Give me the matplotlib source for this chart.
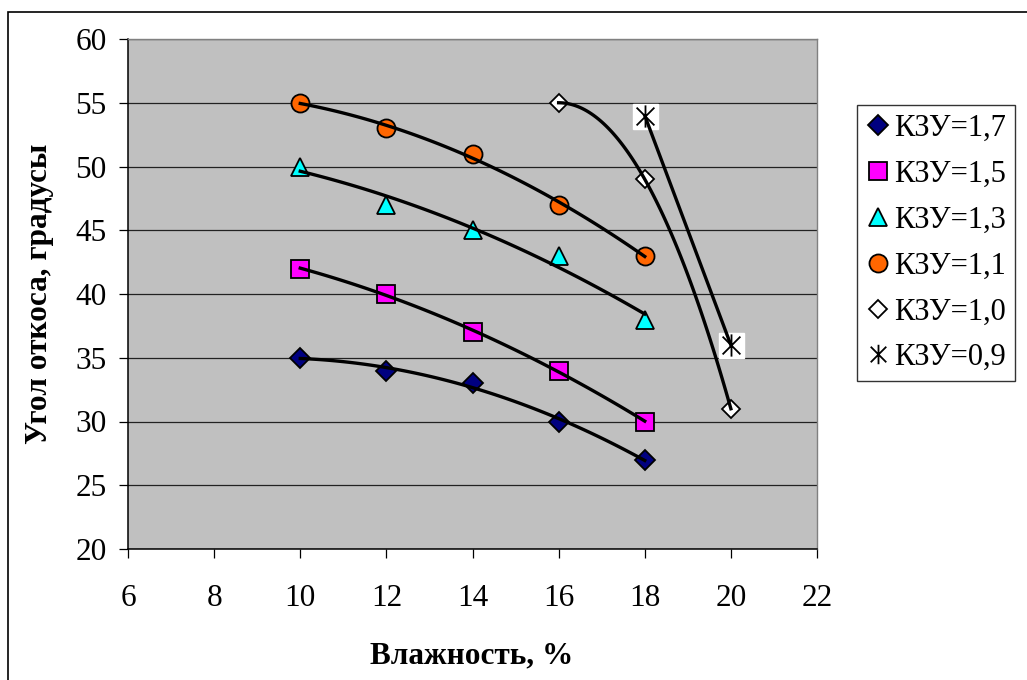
import numpy as np
import matplotlib
matplotlib.use("Agg")
import matplotlib.pyplot as plt
from matplotlib.lines import Line2D
from matplotlib.path import Path
from matplotlib.patches import Rectangle

plt.rcParams['font.family'] = ['Liberation Serif', 'DejaVu Serif']

# данные: влажность (%) и угол откоса (градусы) для разных КЗУ
x_17 = [10, 12, 14, 16, 18]
y_17 = [35, 34, 33, 30, 27]
x_15 = [10, 12, 14, 16, 18]
y_15 = [42, 40, 37, 34, 30]
x_13 = [10, 12, 14, 16, 18]
y_13 = [50, 47, 45, 43, 38]
x_11 = [10, 12, 14, 16, 18]
y_11 = [55, 53, 51, 47, 43]
x_10 = [16, 18, 20]
y_10 = [55, 49, 31]
x_09 = [18, 20]
y_09 = [54, 36]

labels = ['КЗУ=1,7', 'КЗУ=1,5', 'КЗУ=1,3', 'КЗУ=1,1', 'КЗУ=1,0', 'КЗУ=0,9']

# маркер "звездочка" как в Excel: крест + вертикальная черта
star = Path([(-1, -1), (1, 1), (-1, 1), (1, -1), (0, -1.25), (0, 1.25)],
            [Path.MOVETO, Path.LINETO, Path.MOVETO, Path.LINETO, Path.MOVETO, Path.LINETO])

styles = [
    dict(marker='D', color='#000080', ms=10),
    dict(marker='s', color='#FF00FF', ms=13),
    dict(marker='^', color='#00FFFF', ms=13),
    dict(marker='o', color='#FF6600', ms=13),
    dict(marker='D', color='white', ms=9.5),
]

fs = 22.5

fig = plt.figure(figsize=(10.27, 6.8), dpi=100)
ax = fig.add_axes([128 / 1027, 131 / 680, 689 / 1027, 510 / 680])
ax.set_facecolor('#C0C0C0')

series = [(x_17, y_17), (x_15, y_15), (x_13, y_13), (x_11, y_11), (x_10, y_10)]
handles = []
for (xs, ys), st, lab in zip(series, styles, labels[:5]):
    ax.plot(xs, ys, linestyle='none', marker=st['marker'], ms=st['ms'],
            mfc=st['color'], mec='black', mew=1.3, zorder=3)
    handles.append(Line2D([], [], linestyle='none', marker=st['marker'], ms=st['ms'],
                          mfc=st['color'], mec='black', mew=1.3))
    # линия тренда (полином 2-й степени)
    k = np.polyfit(xs, ys, 2)
    xx = np.linspace(xs[0], xs[-1], 100)
    ax.plot(xx, np.polyval(k, xx), color='black', lw=2.4, zorder=4)

# КЗУ=0,9
ax.plot(x_09, y_09, linestyle='none', marker='s', ms=18, mfc='white', mec='white', zorder=3)
ax.plot(x_09, y_09, linestyle='none', marker=star, ms=16, mec='black', mew=1.3, zorder=5)
k = np.polyfit(x_09, y_09, 1)
xx = np.linspace(x_09[0], x_09[-1], 50)
ax.plot(xx, np.polyval(k, xx), color='black', lw=2.4, zorder=4)
handles.append(Line2D([], [], linestyle='none', marker=star, ms=14, mec='black', mew=1.3))

ax.set_xlim(6, 22)
ax.set_ylim(20, 60)
ax.set_xticks(range(6, 23, 2))
ax.set_yticks(range(20, 61, 5))
ax.yaxis.grid(True, color='#222222', lw=0.9)
ax.set_axisbelow(True)
ax.tick_params(direction='out', length=6.5, width=0.9, labelsize=fs, color='black')
ax.tick_params(axis='x', pad=19)
ax.tick_params(axis='y', pad=9)
for s in ['left', 'bottom']:
    ax.spines[s].set_color('black')
    ax.spines[s].set_linewidth(1.1)
for s in ['top', 'right']:
    ax.spines[s].set_color('#808080')
    ax.spines[s].set_linewidth(1)

fig.text(40 / 1027, 1 - 294 / 680, 'Угол откоса, градусы', rotation=90,
         ha='center', va='center', fontsize=fs, fontweight='bold')
fig.text(472 / 1027, 1 - 656 / 680, 'Влажность, %',
         ha='center', va='center', fontsize=fs, fontweight='bold')

leg = fig.legend(handles, labels, loc='upper left', bbox_to_anchor=(857 / 1027, 1 - 105 / 680),
                 fontsize=22, frameon=True, fancybox=False, edgecolor='black',
                 handlelength=0.8, handletextpad=0.12, labelspacing=0.55,
                 borderpad=0.3, borderaxespad=0)
leg.get_frame().set_linewidth(1)

# рамка диаграммы
fig.patches.append(Rectangle((8 / 1027, -0.2), 1.5, 1.2 - 12 / 680, transform=fig.transFigure,
                             fill=False, edgecolor='black', lw=1.2))

fig.savefig('out.png', dpi=100)
